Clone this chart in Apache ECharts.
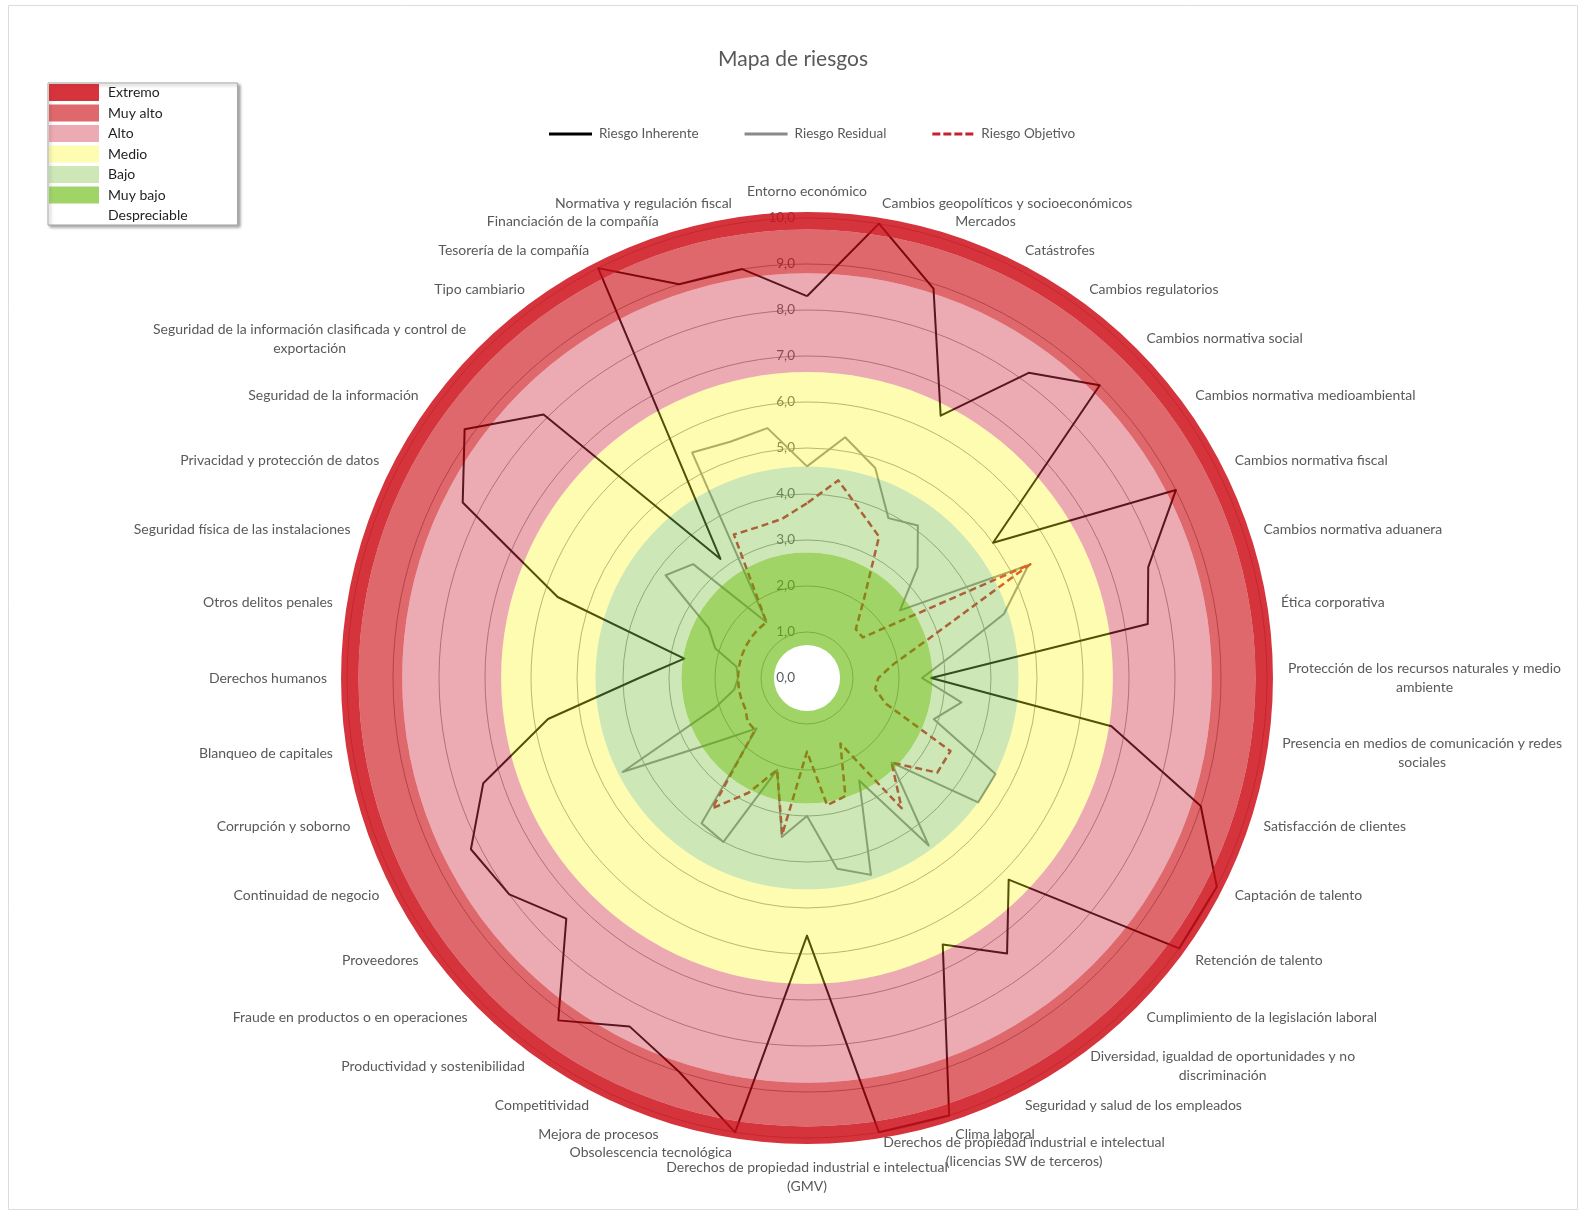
<!DOCTYPE html>
<html><head><meta charset="utf-8">
<script src="https://cdn.jsdelivr.net/npm/echarts@6/dist/echarts.min.js"></script>
<style>html,body{margin:0;padding:0;background:#fff}#c{width:1586px;height:1216px}</style>
</head><body><div id="c"></div>
<script>
// ---- DATA (clockwise from the top) ----
const categories = [
  'Entorno económico',
  'Cambios geopolíticos y socioeconómicos',
  'Mercados',
  'Catástrofes',
  'Cambios regulatorios',
  'Cambios normativa social',
  'Cambios normativa medioambiental',
  'Cambios normativa fiscal',
  'Cambios normativa aduanera',
  'Ética corporativa',
  'Protección de los recursos naturales y medio\nambiente',
  'Presencia en medios de comunicación y redes\nsociales',
  'Satisfacción de clientes',
  'Captación de talento',
  'Retención de talento',
  'Cumplimiento de la legislación laboral',
  'Diversidad, igualdad de oportunidades y no\ndiscriminación',
  'Seguridad y salud de los empleados',
  'Clima laboral',
  'Derechos de propiedad industrial e intelectual\n(licencias SW de terceros)',
  'Derechos de propiedad industrial e intelectual\n(GMV)',
  'Obsolescencia tecnológica',
  'Mejora de procesos',
  'Competitividad',
  'Productividad y sostenibilidad',
  'Fraude en productos o en operaciones',
  'Proveedores',
  'Continuidad de negocio',
  'Corrupción y soborno',
  'Blanqueo de capitales',
  'Derechos humanos',
  'Otros delitos penales',
  'Seguridad física de las instalaciones',
  'Privacidad y protección de datos',
  'Seguridad de la información',
  'Seguridad de la información clasificada y control de\nexportación',
  'Tipo cambiario',
  'Tesorería de la compañía',
  'Financiación de la compañía',
  'Normativa y regulación fiscal'
];
const riesgoInherente = [8.3, 10.0, 8.9, 6.4, 8.2, 9.0, 5.0, 9.0, 7.8, 7.5,
                         2.7, 6.7, 9.0, 10.0, 10.0, 6.2, 7.4, 6.5, 10.0, 10.0,
                         5.6, 10.0, 9.0, 8.5, 9.2, 7.4, 8.0, 8.2, 7.4, 5.7,
                         3.65, 2.7, 5.7, 8.4, 9.2, 8.1, 3.2, 10.0, 9.0, 9.0];
const riesgoResidual  = [4.6, 5.3, 4.8, 3.9, 4.1, 3.4, 2.5, 5.4, 4.5, 3.2,
                         2.5, 3.4, 2.9, 4.6, 4.6, 2.6, 4.5, 2.5, 4.5, 4.2,
                         3.0, 3.5, 2.1, 4.0, 3.9, 1.55, 2.3, 4.5, 2.1, 1.6,
                         1.5, 1.55, 2.1, 2.4, 3.8, 3.5, 1.5, 5.5, 5.4, 5.5];
const riesgoObjetivo  = [3.8, 4.35, 3.8, 3.45, 2.1, 1.5, 1.5, 5.45, 2.8, 1.9,
                         1.55, 1.5, 1.8, 3.5, 3.5, 2.6, 3.5, 1.6, 2.7, 2.8,
                         1.6, 3.45, 2.1, 2.8, 3.5, 1.6, 1.6, 1.5, 1.5, 1.5,
                         1.5, 1.5, 1.5, 1.5, 1.5, 1.5, 1.5, 3.5, 3.45, 3.5];
const seriesNames = ['Riesgo Inherente', 'Riesgo Residual', 'Riesgo Objetivo'];

// risk bands (inner to outer) and their upper limits on the 0-10 scale
const bandNames = ['Despreciable', 'Muy bajo', 'Bajo', 'Medio', 'Alto', 'Muy alto', 'Extremo'];
const bandUpper = [0.72, 2.73, 4.6, 6.65, 8.8, 9.75, 10.13];
const legendBandOrder = ['Extremo', 'Muy alto', 'Alto', 'Medio', 'Bajo', 'Muy bajo', 'Despreciable'];

// ---- STYLE ----
const FONT = 'Lato';
const NAME_SIZE = 14;
const CX = 807, CY = 678, R10 = 460;
const bandVisible = ['#ffffff', '#a1d466', '#cde8b6', '#fefcb1', '#ecabb3', '#de686c', '#d6343c'];
const bandAlpha   = [0, 0.63, 0.40, 0.33, 0.42, 0.62, 0.85];
function overlayColor(hex, a) {
  if (a === 0) return 'rgba(255,255,255,0)';
  const n = parseInt(hex.slice(1), 16);
  const ch = [(n >> 16) & 255, (n >> 8) & 255, n & 255].map(v => {
    const c = (v - (1 - a) * 255) / a;
    return Math.round(Math.max(0, Math.min(255, c)));
  });
  return 'rgba(' + ch.join(',') + ',' + a + ')';
}

// ECharts radar runs counter-clockwise: reorder so the chart reads clockwise
const order = categories.map((_, k) => (categories.length - k) % categories.length);
const reorder = arr => order.map(i => arr[i]);

// centred multi-line names
const measure = document.createElement('canvas').getContext('2d');
measure.font = NAME_SIZE + 'px ' + FONT;
const rich = {};
const nameText = {};
categories.forEach((n, i) => {
  if (n.indexOf('\n') < 0) { nameText[n] = n; return; }
  const lines = n.split('\n');
  const w = Math.ceil(Math.max(...lines.map(l => measure.measureText(l).width))) + 2;
  rich['w' + i] = { width: w, align: 'center', fontSize: NAME_SIZE, color: '#595959', fontFamily: FONT, lineHeight: 19 };
  nameText[n] = lines.map(l => '{w' + i + '|' + l + '}').join('\n');
});

const fmt = v => v.toFixed(1).replace('.', ',');

const lineColors = ['#000000', '#8a8a8a', '#c8202e'];
const seriesData = [riesgoInherente, riesgoResidual, riesgoObjetivo];

const series = seriesData.map((arr, k) => ({
  type: 'radar',
  z: 2,
  symbol: 'none',
  animation: false,
  lineStyle: { color: lineColors[k], width: k === 2 ? 2.5 : 2, type: k === 2 ? [7, 4] : 'solid' },
  itemStyle: { color: lineColors[k] },
  data: [{ name: seriesNames[k], value: reorder(arr) }]
}));

bandNames.forEach((b, i) => {
  series.push({
    type: 'bar',
    name: b,
    coordinateSystem: 'polar',
    stack: 'bands',
    data: [bandUpper[i] - (i ? bandUpper[i - 1] : 0)],
    barWidth: '100%',
    barCategoryGap: '0%',
    itemStyle: { color: overlayColor(bandVisible[i], bandAlpha[i]) },
    z: 10,
    silent: true,
    animation: false
  });
});

const chart = echarts.init(document.getElementById('c'), null, { renderer: 'canvas' });
chart.setOption({
  backgroundColor: '#ffffff',
  animation: false,
  textStyle: { fontFamily: FONT },
  graphic: [{
    type: 'rect', silent: true, z: -10,
    shape: { x: 8.5, y: 5.5, width: 1569, height: 1204 },
    style: { fill: 'none', stroke: '#dcdcdc', lineWidth: 1 }
  }],
  title: {
    text: 'Mapa de riesgos', left: 'center', top: 44,
    textStyle: { fontSize: 21, fontWeight: 'normal', color: '#595959', fontFamily: FONT }
  },
  legend: [
    {
      data: legendBandOrder, orient: 'vertical', left: 48, top: 83,
      icon: 'rect', itemWidth: 50, itemHeight: 17, itemGap: 3.5,
      selectedMode: false,
      textStyle: { fontSize: 14, color: '#1f1f1f', fontFamily: FONT, padding: [0, 0, 0, 4] },
      backgroundColor: '#ffffff', borderColor: '#a6a6a6', borderWidth: 1,
      padding: [1, 50, 1, 1],
      shadowColor: 'rgba(0,0,0,0.35)', shadowBlur: 3, shadowOffsetX: 2, shadowOffsetY: 2
    },
    {
      data: seriesNames.map((n, k) => ({
        name: n,
        icon: k === 2 ? 'path://M0,0h8v3h-8zM11,0h8v3h-8zM22,0h8v3h-8zM33,0h8v3h-8z' : 'rect',
        itemStyle: { color: lineColors[k] }
      })),
      left: 544, top: 122, itemWidth: 43, itemHeight: 3, itemGap: 46,
      selectedMode: false,
      textStyle: { fontSize: 13.5, color: '#595959', fontFamily: FONT, padding: [0, 0, 0, 2] }
    }
  ],
  radar: {
    center: [CX, CY], radius: R10, startAngle: 90, splitNumber: 10, shape: 'circle',
    indicator: order.map(i => ({ name: categories[i], min: 0, max: 10 })),
    nameGap: 20,
    axisName: { color: '#595959', fontSize: NAME_SIZE, fontFamily: FONT, formatter: n => nameText[n], rich: rich },
    axisLine: { show: false },
    axisTick: { show: false },
    axisLabel: { show: false },
    splitLine: { lineStyle: { color: '#9a9a9a', width: 1 } },
    splitArea: { show: false },
    z: 1
  },
  polar: { center: [CX, CY], radius: R10 * bandUpper[bandUpper.length - 1] / 10 },
  angleAxis: { type: 'category', data: [''], startAngle: 90, show: false },
  radiusAxis: {
    type: 'value', min: 0, max: bandUpper[bandUpper.length - 1], interval: 1, z: 1,
    axisLine: { show: false }, axisTick: { show: false }, splitLine: { show: false },
    axisLabel: { show: true, showMaxLabel: false, formatter: fmt, color: '#595959', fontSize: 13.5, margin: 12, fontFamily: FONT }
  },
  series: series
});
</script></body></html>
